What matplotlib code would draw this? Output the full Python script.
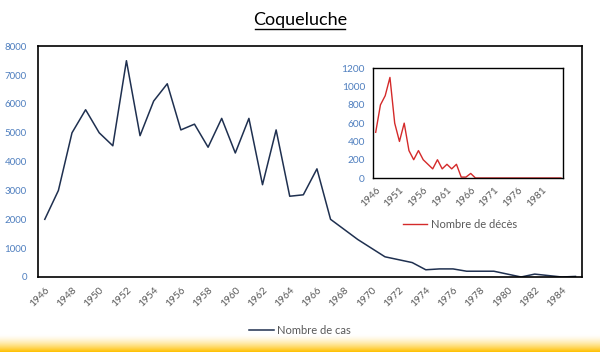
import numpy as np
import matplotlib
matplotlib.use("Agg")
import matplotlib.pyplot as plt
from matplotlib.lines import Line2D

plt.rcParams['font.family'] = ['Lato', 'DejaVu Sans']

# data
years = list(range(1946, 1986))
cases = [2000, 3000, 5000, 5800, 5000, 4550, 7500, 4900, 6100, 6700,
         5100, 5300, 4500, 5500, 4300, 5500, 3200, 5100, 2800, 2850,
         3750, 2000, 1650, 1300, 1000, 700, 600, 500, 250, 280,
         280, 200, 200, 200, 100, 0, 100, 50, 0, 20]
deaths = [500, 800, 900, 1100, 600, 400, 600, 300, 200, 300,
          200, 150, 100, 200, 100, 150, 100, 150, 10, 10,
          50, 0, 0, 0, 0, 0, 0, 0, 0, 0,
          0, 0, 0, 0, 0, 0, 0, 0, 0, 0]

navy = "#1f3050"
red = "#d42a2a"
blue_lbl = "#4f7fbf"
grey_lbl = "#595959"

fig = plt.figure(figsize=(6.0, 3.52), dpi=100)

# yellow band at the bottom
band = fig.add_axes([0, 0, 1, 18 / 352], zorder=-5)
grad = np.linspace(0, 1, 64) ** 1.6
band.imshow(grad[:, None] * np.ones((1, 2)), aspect='auto', extent=[0, 1, 0, 1],
            cmap=matplotlib.colors.LinearSegmentedColormap.from_list('y', ['#ffffff', '#ffc000']),
            origin='upper')
band.axis('off')

# main chart
ax = fig.add_axes([0.0633, 0.2131, 0.9072, 0.6554])
x = np.arange(len(years))
ax.plot(x, cases, color=navy, lw=1.1, label="Nombre de cas")
ax.set_xlim(-0.5, len(years) - 0.5)
ax.set_ylim(0, 8000)
ax.set_yticks(range(0, 8001, 1000))
ax.set_xticks(x[::2])
ax.set_xticklabels([str(y) for y in years[::2]], rotation=45, ha='right',
                   rotation_mode='anchor')
ax.tick_params(axis='y', length=0, pad=8, labelsize=7, labelcolor=blue_lbl)
ax.tick_params(axis='x', length=0, pad=6, labelsize=7.3, labelcolor=grey_lbl)
for s in ax.spines.values():
    s.set_color('black')
    s.set_linewidth(1.2)

# inset chart
ins = fig.add_axes([0.6222, 0.4943, 0.3167, 0.3117])
ins.plot(x, deaths, color=red, lw=1.0)
ins.set_xlim(-0.5, len(years) - 0.5)
ins.set_ylim(0, 1200)
ins.set_yticks(range(0, 1201, 200))
ins.set_xticks(x[:-4:5])
ins.set_xticklabels([str(y) for y in years[:-4:5]], rotation=45, ha='right',
                    rotation_mode='anchor')
ins.tick_params(axis='y', length=0, pad=6, labelsize=7.3, labelcolor=blue_lbl)
ins.tick_params(axis='x', length=0, pad=5, labelsize=7.3, labelcolor=grey_lbl)
for s in ins.spines.values():
    s.set_color('black')
    s.set_linewidth(1.0)

# legends
fig.legend(handles=[Line2D([], [], color=navy, lw=1.1)], labels=["Nombre de cas"],
           loc='center', bbox_to_anchor=(0.5, 1 - 330 / 352), frameon=False,
           fontsize=8, labelcolor=grey_lbl, handlelength=2.2, handletextpad=0.3)
fig.legend(handles=[Line2D([], [], color=red, lw=1.0)], labels=["Nombre de décès"],
           loc='center', bbox_to_anchor=(460 / 600, 1 - 224 / 352), frameon=False,
           fontsize=8, labelcolor=grey_lbl, handlelength=2.2, handletextpad=0.3)

# title with underline
t = fig.text(0.5, 1 - 20 / 352, "Coqueluche", ha='center', va='center',
             fontsize=13, color='black')
fig.canvas.draw()
bb = t.get_window_extent().transformed(fig.transFigure.inverted())
uy = bb.y0 - 1.0 / 352
trim = 2.0 / 600
fig.add_artist(Line2D([bb.x0 + trim, bb.x1 - trim], [uy, uy], transform=fig.transFigure,
                      color='black', lw=1.0))

fig.savefig("out.png", dpi=100)
